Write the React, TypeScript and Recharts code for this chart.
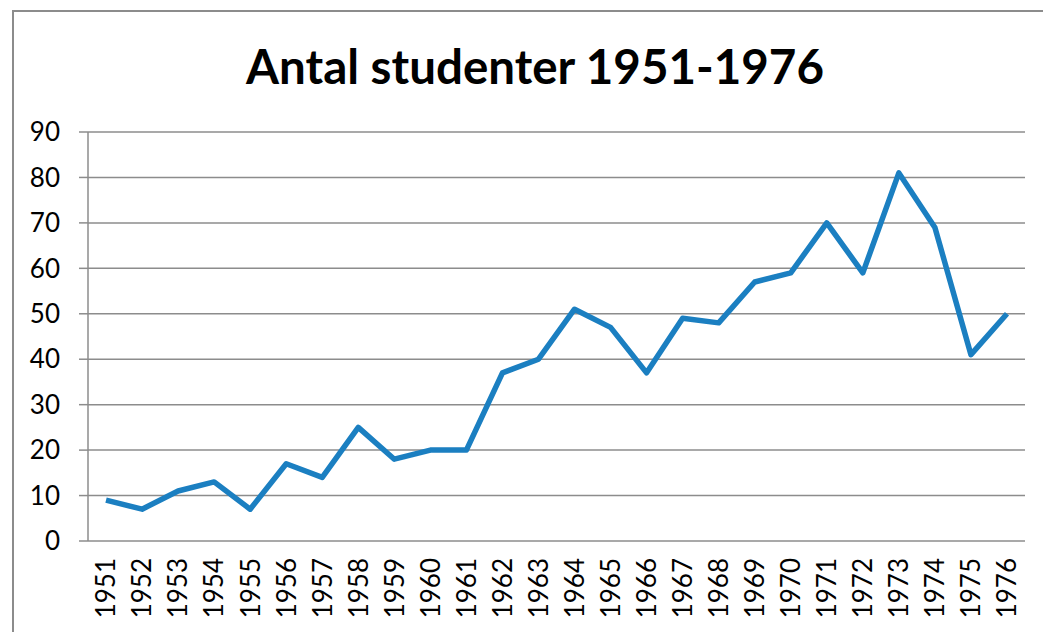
import { LineChart, Line, XAxis, YAxis, CartesianGrid } from 'recharts';

const years = [
  '1951', '1952', '1953', '1954', '1955', '1956', '1957', '1958', '1959', '1960', '1961', '1962', '1963',
  '1964', '1965', '1966', '1967', '1968', '1969', '1970', '1971', '1972', '1973', '1974', '1975', '1976',
];
const students = [9, 7, 11, 13, 7, 17, 14, 25, 18, 20, 20, 37, 40, 51, 47, 37, 49, 48, 57, 59, 70, 59, 81, 69, 41, 50];
const yTicks = [0, 10, 20, 30, 40, 50, 60, 70, 80, 90];
// category boundaries, where Excel puts the x tick marks
const boundaryTicks = [0, 1, 2, 3, 4, 5, 6, 7, 8, 9, 10, 11, 12, 13, 14, 15, 16, 17, 18, 19, 20, 21, 22, 23, 24, 25, 26];

const data = years.map((year, i) => ({ year, students: students[i] }));

const FONT = 'Lato, "Open Sans", sans-serif';
const GRID = '#8c8c8c';

const YearTick = (props: any) => {
  const { x, y, payload } = props;
  return (
    <text
      x={x}
      y={y}
      transform={`rotate(-90, ${x}, ${y})`}
      textAnchor="end"
      dy="0.36em"
      fontSize={26}
      fontFamily={FONT}
      fill="#000"
    >
      {payload.value}
    </text>
  );
};

export default function App() {
  return (
    <div style={{ position: 'absolute', left: 0, top: 0, width: 1043, height: 632, overflow: 'hidden', background: '#fff' }}>
      <div
        style={{
          position: 'absolute', left: 12, top: 10, width: 1200, height: 800,
          borderTop: `2px solid ${GRID}`, borderLeft: `2px solid ${GRID}`,
        }}
      />
      <div
        style={{
          position: 'absolute', left: 0, top: 36, width: 1070, textAlign: 'center',
          fontFamily: FONT, fontWeight: 700, fontSize: 47.5, color: '#000', lineHeight: '60px',
        }}
      >
        Antal studenter 1951-1976
      </div>
      <div style={{ position: 'absolute', left: 0, top: 0 }}>
        <LineChart width={1043} height={632} data={data} margin={{ top: 132, right: 18, bottom: 0, left: 0 }}>
          <CartesianGrid vertical={false} stroke={GRID} strokeWidth={1.5} />
          <XAxis
            xAxisId="marks"
            type="number"
            domain={[0, 26]}
            ticks={boundaryTicks}
            allowDataOverflow
            tick={false}
            height={0}
            tickSize={9}
            tickLine={{ stroke: GRID, strokeWidth: 1.5 }}
            axisLine={{ stroke: GRID, strokeWidth: 1.5 }}
          />
          <XAxis
            xAxisId="cat"
            dataKey="year"
            scale="band"
            interval={0}
            height={91}
            axisLine={false}
            tickLine={false}
            tickSize={0}
            tickMargin={17}
            tick={<YearTick />}
          />
          <YAxis
            width={88}
            domain={[0, 90]}
            ticks={yTicks}
            interval={0}
            tickSize={9}
            tickMargin={19}
            tickLine={{ stroke: GRID, strokeWidth: 1.5 }}
            axisLine={{ stroke: GRID, strokeWidth: 1.5 }}
            tick={{ fill: '#000', fontSize: 26, fontFamily: FONT }}
          />
          <Line
            xAxisId="cat"
            type="linear"
            dataKey="students"
            stroke="#1b7fc1"
            strokeWidth={5.5}
            strokeLinejoin="round"
            dot={false}
            isAnimationActive={false}
          />
        </LineChart>
      </div>
    </div>
  );
}
